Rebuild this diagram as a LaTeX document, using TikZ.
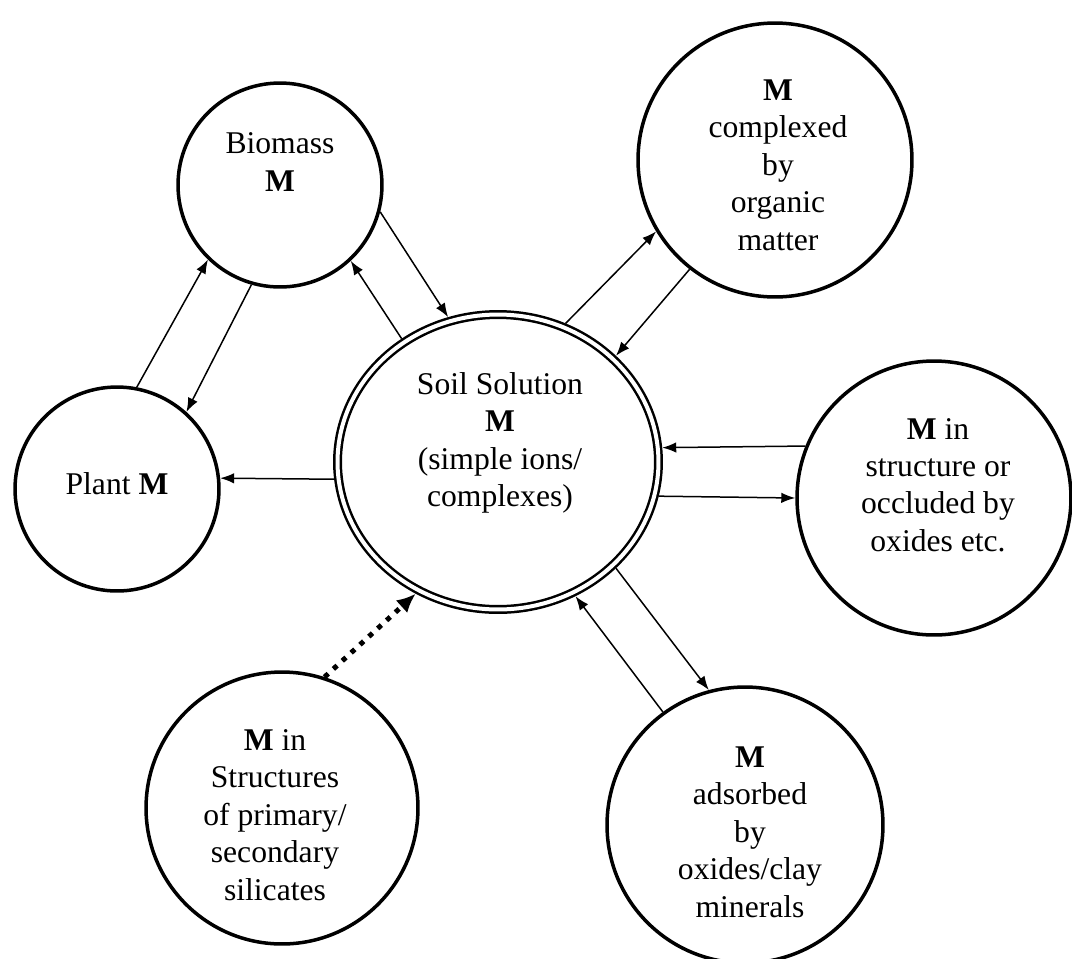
\documentclass[tikz,border=0pt]{standalone}
\usepackage{fontspec}
\setmainfont{Liberation Serif}
\usetikzlibrary{arrows.meta,shapes.geometric}
\begin{document}
\begin{tikzpicture}[x=0.02cm,y=-0.02cm,
pool/.style ={circle, draw, line width=0.07cm, inner sep=0pt},
solution/.style ={ellipse, draw, line width=0.05cm, double, double distance=0.08cm,
  inner sep=0pt, outer sep=0.09cm, minimum width=6.42cm, minimum height=5.9cm
},
txt/.style ={align=center, inner sep=0pt,
  font=\fontsize{18}{21.3}\selectfont
},
flow/.style ={line width=0.03cm, -{Latex[length=0.28cm,width=0.21cm]}},
weather/.style ={line width=0.1cm, dash pattern=on 0.1cm off 0.14cm,
  -{Latex[length=0.38cm,width=0.34cm]}
}]
\useasboundingbox (0,0) rectangle (1072,958);

\node (bio) at (280,185) [pool, minimum size=4.08cm] {};
\node (plant) at (117,489) [pool, minimum size=4.08cm] {};
\node (org) at (775,160) [pool, minimum size=5.48cm] {};
\node (occl) at (934,498) [pool, minimum size=5.48cm] {};
\node (sil) at (282,808) [pool, minimum size=5.44cm] {};
\node (ads) at (745,825) [pool, minimum size=5.52cm] {};
\node (soil) at (498,462) [solution] {};

\node (tbio) at (280,162) [txt] {Biomass\\\textbf{M}};
\node (tplant) at (117,484) [txt] {Plant \textbf{M}};
\node (torg) at (778,165) [txt] {\textbf{M}\\complexed\\by\\organic\\matter};
\node (toccl) at (938,485) [txt] {\textbf{M} in\\structure or\\occluded by\\oxides etc.};
\node (tsil) at (275,815) [txt] {\textbf{M} in\\Structures\\of primary/\\secondary\\silicates};
\node (tads) at (750,832) [txt] {\textbf{M}\\adsorbed\\by\\oxides/clay\\minerals};
\node (tsoil) at (500,443) [txt] {Soil Solution\\\textbf{M}\\(simple ions/\\complexes)};

\draw[flow] (bio.-15) -- (soil.109);
\draw[flow] (soil.128) -- (bio.-47);
\draw[flow] (plant.79) -- (bio.-134);
\draw[flow] (bio.-106) -- (plant.48);
\draw[flow] (soil.186) -- (plant.6);
\draw[flow] (soil.64) -- (org.-149);
\draw[flow] (org.-128) -- (soil.42);
\draw[flow] (occl.158) -- (soil.5);
\draw[flow] (soil.-12) -- (occl.180);
\draw[flow] (soil.-42) -- (ads.105);
\draw[flow] (ads.126) -- (soil.-60);
\draw[weather] (sil.72) -- (soil.-122);
\end{tikzpicture}
\end{document}
